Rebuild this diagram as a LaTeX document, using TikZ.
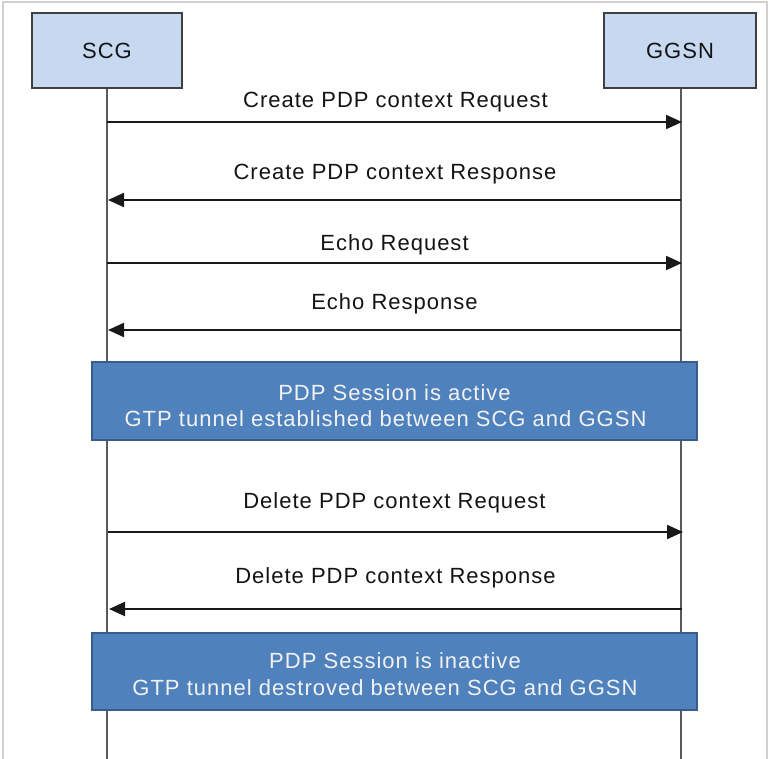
\documentclass[tikz,border=0pt]{standalone}
\usepackage{fontspec}
\setmainfont{Liberation Sans}[LetterSpace=4.6]
\usetikzlibrary{arrows.meta}
\definecolor{hdrfill}{HTML}{C6D9F1}
\definecolor{hdrline}{HTML}{404040}
\definecolor{bluefill}{HTML}{4F81BD}
\definecolor{blueline}{HTML}{385D8A}
\definecolor{lifegray}{HTML}{5A5A5A}
\definecolor{framegray}{HTML}{D0D0D0}
\definecolor{txt}{HTML}{141414}
\begin{document}
\begin{tikzpicture}[x=1pt,y=-1pt,
  hdr/.style={draw=hdrline,line width=1.8pt,fill=hdrfill,minimum width=150pt,minimum height=75pt,inner sep=0pt,font=\fontsize{22}{26}\selectfont,text=txt},
  state/.style={draw=blueline,line width=2pt,fill=bluefill,minimum width=605pt,minimum height=77pt,inner sep=0pt},
  statetxt/.style={anchor=base,inner sep=0pt,font=\fontsize{22}{26}\selectfont,text=white!95!black},
  life/.style={draw=lifegray,line width=2.2pt},
  msg/.style={draw=black!90,line width=2.1pt,-{Triangle[length=16pt,width=14pt]}},
  lbl/.style={anchor=base,inner sep=0pt,font=\fontsize{22}{26}\selectfont,text=txt}
]
\useasboundingbox (0,0) rectangle (770,759);
\fill[white] (0,0) rectangle (770,759);
\draw[framegray,line width=1.2pt] (3,759) -- (3,2) -- (767,2) -- (767,759);

\node[hdr] (scg) at (107,50.5) {SCG};
\node[hdr,minimum width=152pt] (ggsn) at (680,50.5) {GGSN};

\coordinate (scgend) at (107,759);
\coordinate (ggsnend) at (681,759);
\draw[life] (scg.south -| scgend) -- (scgend);
\draw[life] (ggsn.south -| ggsnend) -- (ggsnend);

% messages
\coordinate (s1) at (107,122); \coordinate (g1) at (682,122);
\coordinate (s2) at (108,200); \coordinate (g2) at (681,200);
\coordinate (s3) at (107,263); \coordinate (g3) at (682,263);
\coordinate (s4) at (108,330); \coordinate (g4) at (681,330);
\coordinate (s5) at (108,532); \coordinate (g5) at (683,532);
\coordinate (s6) at (109,609); \coordinate (g6) at (682,609);

\draw[msg] (s1) -- (g1);
\draw[msg] (g2) -- (s2);
\draw[msg] (s3) -- (g3);
\draw[msg] (g4) -- (s4);
\draw[msg] (s5) -- (g5);
\draw[msg] (g6) -- (s6);

\node[lbl] (l1) at (395.5,108) {Create PDP context Request};
\node[lbl] (l2) at (395,180) {Create PDP context Response};
\node[lbl] (l3) at (394.5,250) {Echo Request};
\node[lbl] (l4) at (394.5,309) {Echo Response};
\node[lbl] (l5) at (394.5,508) {Delete PDP context Request};
\node[lbl] (l6) at (395.5,583) {Delete PDP context Response};

\node[state,minimum height=78pt] (act) at (394.5,401) {};
\node[statetxt] (act1) at (394.5,400) {PDP Session is active};
\node[statetxt] (act2) at (385.5,426) {GTP tunnel established between SCG and GGSN};
\node[state] (inact) at (394.5,671) {};
\node[statetxt] (inact1) at (395,668) {PDP Session is inactive};
\node[statetxt] (inact2) at (385,695) {GTP tunnel destroved between SCG and GGSN};
\end{tikzpicture}
\end{document}
